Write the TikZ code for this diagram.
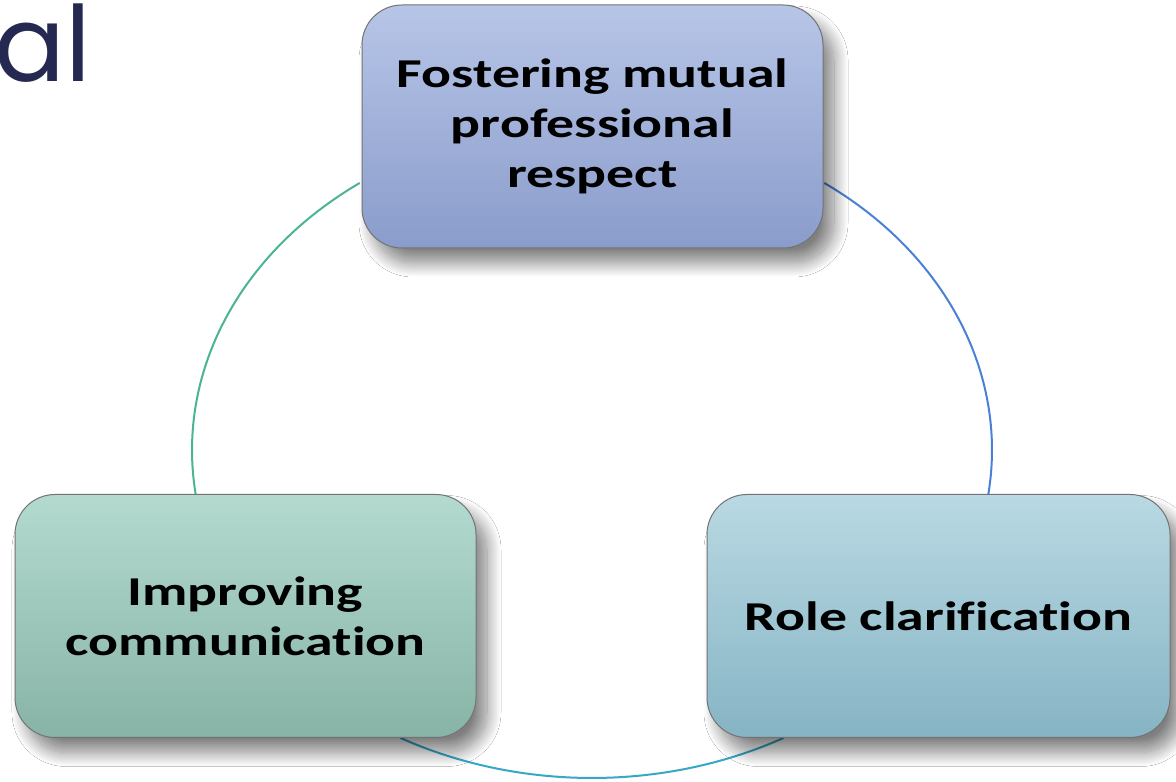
\documentclass[tikz,border=0pt]{standalone}
\usepackage{fontspec}
\setmainfont{Carlito}
\newfontfamily\boxfont{Carlito}[FakeStretch=1.36, Ligatures=NoCommon]
\newfontfamily\headfont{Poppins}
\usetikzlibrary{calc,shadows.blur}

\definecolor{navy}{HTML}{252850}
\definecolor{topA}{HTML}{B7C5E7}
\definecolor{topB}{HTML}{8A9CCB}
\definecolor{leftA}{HTML}{B4DAD0}
\definecolor{leftB}{HTML}{87B4A6}
\definecolor{rightA}{HTML}{B9D9E3}
\definecolor{rightB}{HTML}{86B4C4}
\definecolor{arcL}{HTML}{4BB396}
\definecolor{arcR}{HTML}{4A80D6}
\definecolor{arcB}{HTML}{3AA6C6}

\tikzset{
  cyclebox/.style={draw=black!55, line width=1pt, rounded corners=40pt,
    minimum width=461pt, minimum height=243pt, align=center,
    font=\boxfont\fontsize{41}{50}\selectfont\bfseries,
    blur shadow={shadow xshift=11pt, shadow yshift=-15pt,
      shadow blur radius=14pt, shadow blur steps=20, shadow opacity=50}},
  ring/.style={line width=2pt}
}

\begin{document}
\begin{tikzpicture}[x=1pt,y=1pt]
	\clip (0,0) rectangle (1176,782);
	\fill[white] (0,0) rectangle (1176,782);

	% ring behind the boxes
	\coordinate (ctr) at (592,332);
	\draw[ring,arcL] ($(ctr)+(125.5:400 and 328)$) arc[start angle=125.5, end angle=187.7, x radius=400, y radius=328];
	\draw[ring,arcB] ($(ctr)+(241.4:400 and 328)$) arc[start angle=241.4, end angle=298.6, x radius=400, y radius=328];
	\draw[ring,arcR] ($(ctr)+(-7.7:400 and 328)$) arc[start angle=-7.7, end angle=54.5, x radius=400, y radius=328];

	% the three boxes
	\node[cyclebox, top color=topA, bottom color=topB] (fostering) at (592.5,655.5)
		{Fostering mutual\\professional\\respect};
	\node[cyclebox, top color=leftA, bottom color=leftB] (improving) at (245.5,166)
		{Improving\\communication};
	\node[cyclebox, top color=rightA, bottom color=rightB, minimum width=463pt] (role) at (938.5,166)
		{Role clarification};

	% heading cut off at the edge
	\node[anchor=base west, inner sep=0pt, text=navy, font=\headfont\fontsize{105}{105}\selectfont] (head) at (-6,700) {al};
\end{tikzpicture}
\end{document}
